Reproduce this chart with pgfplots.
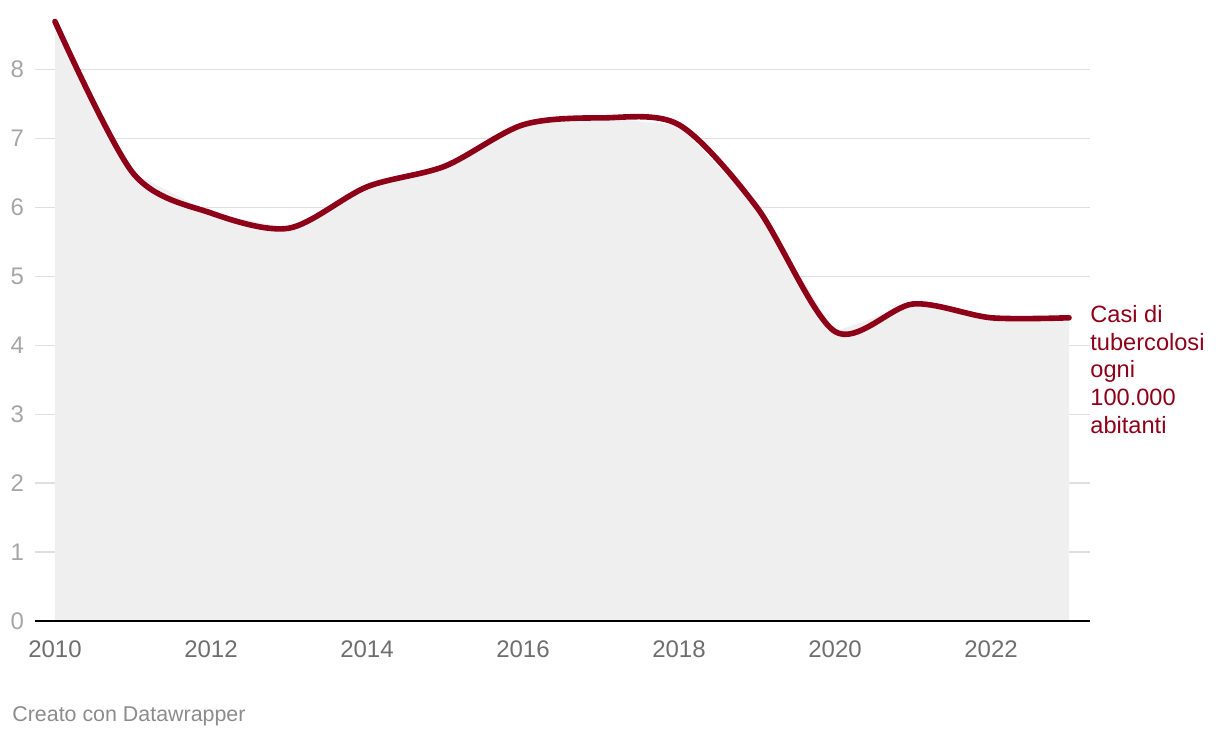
\documentclass[border=0pt]{standalone}
\usepackage{pgfplots}
\pgfplotsset{compat=1.18}
\usepackage{fontspec}
\setmainfont{Liberation Sans}

\definecolor{tbred}{HTML}{8E0018}
\definecolor{areagray}{HTML}{EFEFEF}
\definecolor{gridgray}{HTML}{DFDFDF}
\definecolor{ytickgray}{HTML}{A6A6A6}
\definecolor{xtickgray}{HTML}{6E6E6E}
\definecolor{footgray}{HTML}{8C8C8C}

\begin{document}
\begin{tikzpicture}
  \begin{axis}[
      scale only axis,
      width=527.5pt,
      height=301.5pt,
      xmin=2009.744, xmax=2023.269,
      ymin=0, ymax=8.75,
      axis line style={draw=none},
      major tick length=0pt,
      xtick={2010,2012,...,2022},
      ytick={0,1,...,8},
      ymajorgrids,
      grid style={gridgray, line width=0.7pt},
      x tick label style={font=\fontsize{12}{14}\selectfont, text=xtickgray, /pgf/number format/1000 sep={}},
      y tick label style={font=\fontsize{12}{14}\selectfont, text=ytickgray},
      xticklabel style={yshift=-6.5pt},
      yticklabel style={xshift=-2pt},
      /pgf/number format/assume math mode=true,
      clip=false,
    ]
    % area (linear)
    \addplot[fill=areagray, draw=none] coordinates {
      (2010,8.7) (2011,6.5) (2012,5.92) (2013,5.7) (2014,6.3) (2015,6.6) (2016,7.2)
      (2017,7.3) (2018,7.2) (2019,6.0) (2020,4.2) (2021,4.6) (2022,4.4) (2023,4.4)
    } \closedcycle;
    % baseline
    \draw[black, line width=1pt] (rel axis cs:0,0) -- (rel axis cs:1,0);
    % line
    \addplot[tbred, line width=2.8pt, line cap=round, line join=round, smooth, tension=0.5] coordinates {
      (2010,8.7) (2011,6.5) (2012,5.92) (2013,5.7) (2014,6.3) (2015,6.6) (2016,7.2)
      (2017,7.3) (2018,7.2) (2019,6.0) (2020,4.2) (2021,4.6) (2022,4.4) (2023,4.4)
    };
    \node[anchor=north west, inner sep=0pt, align=left, text=tbred,
          font=\fontsize{11.8}{13.9}\selectfont, xshift=10.5pt, yshift=6.5pt]
      at (axis cs:2023,4.4) {Casi di\\tubercolosi\\ogni\\100.000\\abitanti};
    \node[anchor=base west, inner sep=0pt, text=footgray, font=\fontsize{10.7}{12}\selectfont,
          xshift=-11.5pt, yshift=-50pt] at (rel axis cs:0,0) {Creato con Datawrapper};
    \coordinate (ll) at (rel axis cs:0,0);
    \coordinate (ur) at (rel axis cs:1,1);
  \end{axis}
  \useasboundingbox ([shift={(-17.5pt,-58.5pt)}]ll) rectangle ([shift={(65pt,9pt)}]ur);
\end{tikzpicture}
\end{document}
